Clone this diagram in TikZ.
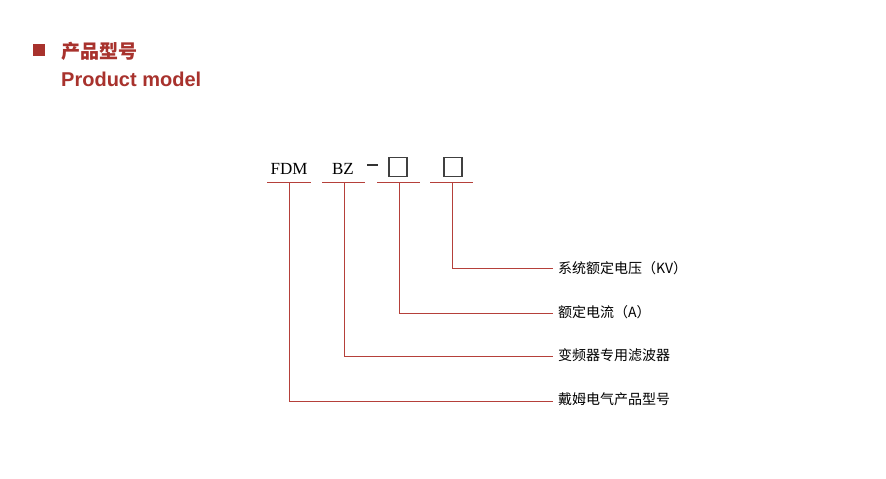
\documentclass[tikz,border=0pt]{standalone}
\usepackage{fontspec}
\setmainfont{Liberation Serif}
\newfontfamily\cjk{Noto Sans CJK SC}
\newfontfamily\headsans{Liberation Sans}
\usetikzlibrary{positioning}
\definecolor{brick}{HTML}{A8322D}
\definecolor{leader}{HTML}{B5403A}
\tikzstyle{uline} = [draw=leader, line width=1pt]
\tikzstyle{lead} = [draw=leader, line width=1pt]
\tikzstyle{code} = [font=\fontsize{17}{17}\selectfont, inner sep=0pt]
\tikzstyle{blank} = [draw=black!75, line width=1.2pt, minimum width=18pt, minimum height=19pt, inner sep=0pt]
\tikzstyle{meaning} = [font=\cjk\fontsize{14}{14}\selectfont, anchor=west, inner sep=0pt]
\begin{document}
\begin{tikzpicture}[x=1pt,y=-1pt]
	\useasboundingbox[fill=white] (0,0) rectangle (886,479);

	% Header
	\node[fill=brick, minimum size=12pt, inner sep=0pt] (mark) at (39,50) {};
	\node[anchor=west, text=brick, font=\cjk\bfseries\fontsize{19}{19}\selectfont, inner sep=0pt] (title) at (61,51) {产品型号};
	\node[anchor=west, text=brick, font=\headsans\bfseries\fontsize{20}{20}\selectfont, inner sep=0pt] (subtitle) at (61,79) {Product model};

	% Code parts
	\node[code] (fdm) at (289,169) {FDM};
	\node[code] (bz) at (343,169) {BZ};
	\node[fill=black!80, minimum width=11pt, minimum height=1.6pt, inner sep=0pt] (dash) at (372,165) {};
	\node[blank] (volt) at (398,167) {};
	\node[blank] (curr) at (453,167) {};

	% Underlines
	\foreach \name/\xa/\xb in {{fdm/267/311}, {bz/322/365}, {box1/377/420}, {box2/430/473}}
	\path[uline] (\xa,182) -- (\xb,182);

	% Meanings
	\node[meaning] (m4) at (558,268) {系统额定电压（KV）};
	\node[meaning] (m3) at (558,312) {额定电流（A）};
	\node[meaning] (m2) at (558,355) {变频器专用滤波器};
	\node[meaning] (m1) at (558,399) {戴姆电气产品型号};

	% Leaders
	\foreach \x/\y/\dest in {452/268/m4, 399/313/m3, 344/356/m2, 289/401/m1}
	\path[lead] (\x,182) |- (553,\y);

\end{tikzpicture}
\end{document}
